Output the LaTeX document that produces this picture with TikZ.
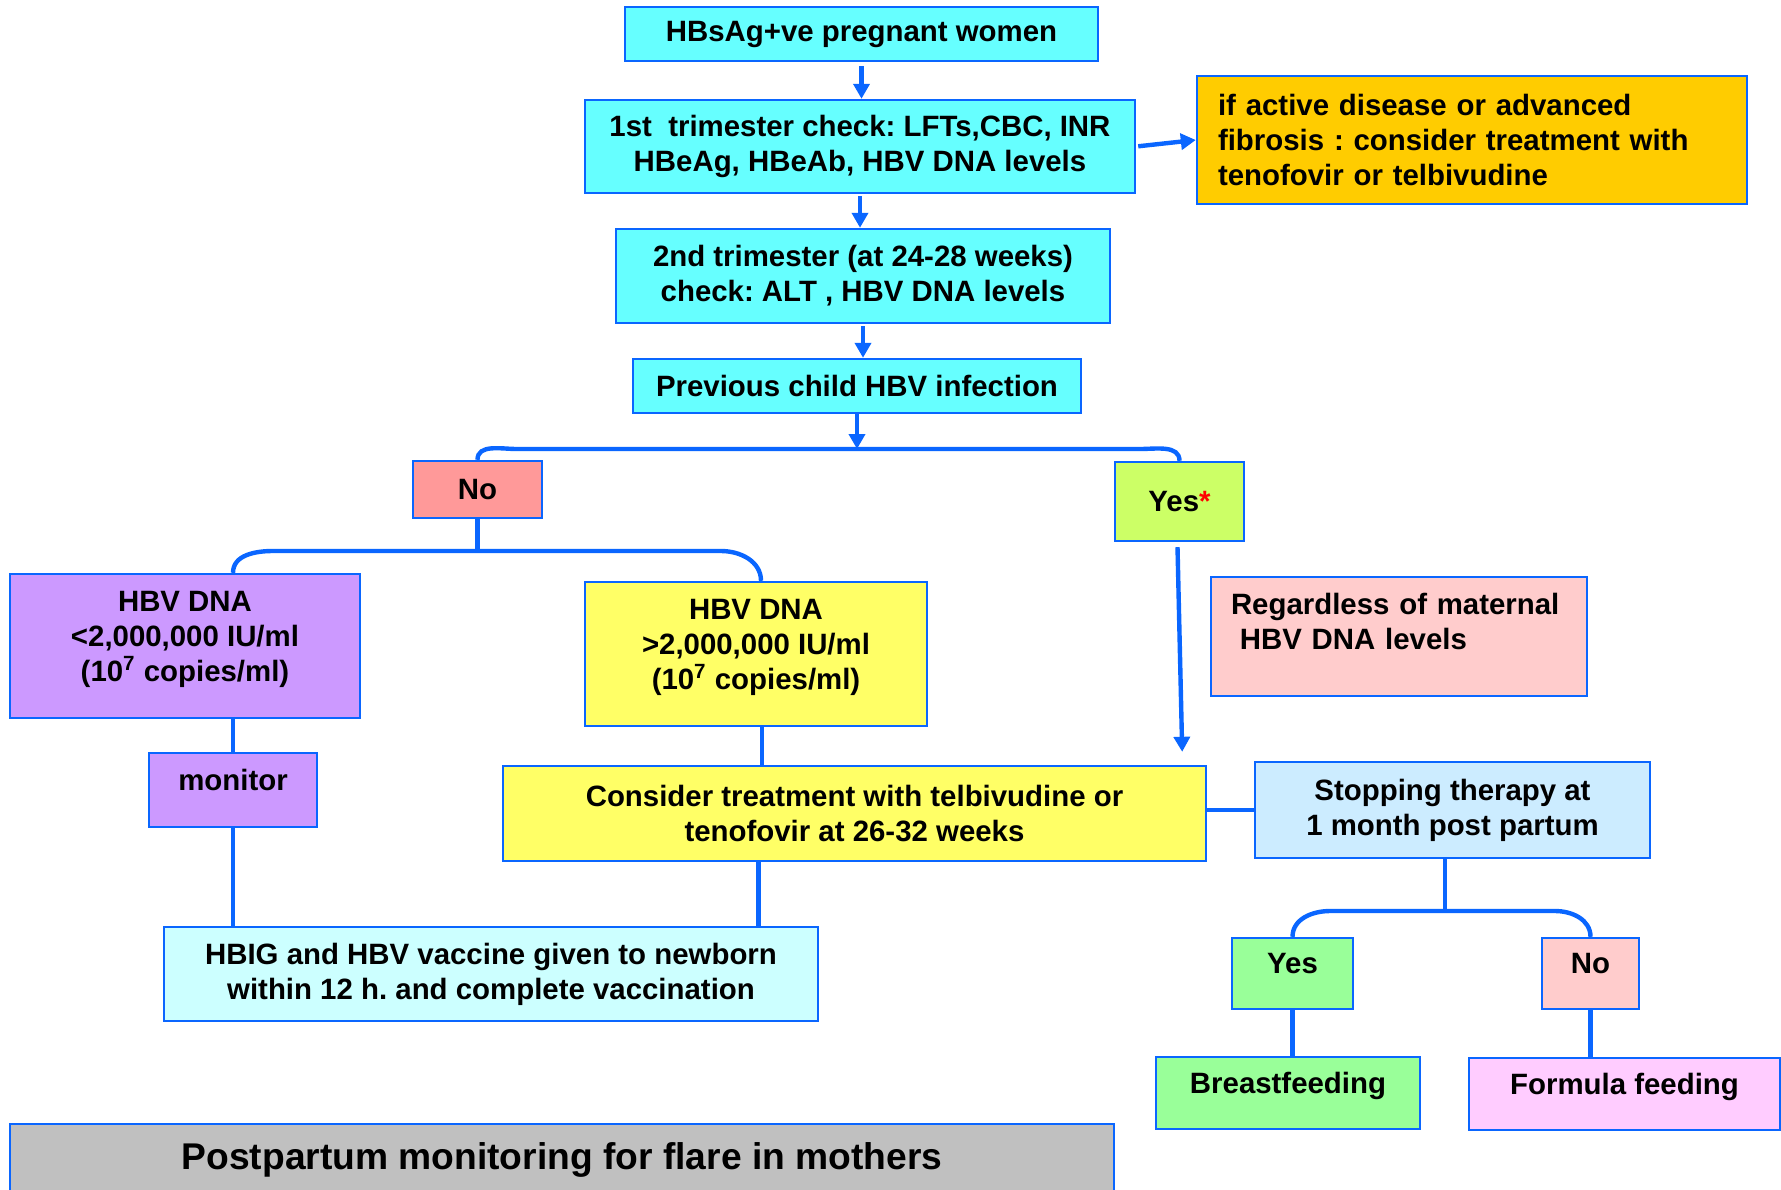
\documentclass[tikz,border=0pt]{standalone}
\usepackage{fontspec}
\setmainfont{Liberation Sans}
\frenchspacing
\usetikzlibrary{arrows.meta,calc}
\definecolor{hbvblue}{HTML}{0A66FF}
\definecolor{cyanbox}{HTML}{66FFFF}
\definecolor{orangebox}{HTML}{FFCC00}
\definecolor{nobox}{HTML}{FF9999}
\definecolor{yesbox}{HTML}{CCFF66}
\definecolor{purplebox}{HTML}{CC99FF}
\definecolor{yellowbox}{HTML}{FFFF66}
\definecolor{pinkbox}{HTML}{FFCCCC}
\definecolor{stopbox}{HTML}{CCECFF}
\definecolor{newbornbox}{HTML}{CCFFFF}
\definecolor{greenbox}{HTML}{99FF99}
\definecolor{formulabox}{HTML}{FFCCFF}
\definecolor{greybox}{HTML}{C0C0C0}
\begin{document}
\begin{tikzpicture}[
   x=0.5pt, y=-0.5pt,
   font=\bfseries\fontsize{14.7}{17.5}\selectfont,
   box/.style={draw=hbvblue, line width=1.2pt, align=center, inner sep=0pt},
   arrow/.style={-{Triangle[length=7.5pt, width=8pt]}, hbvblue, line width=2.2pt},
   link/.style={hbvblue, line width=2.2pt}
]
\useasboundingbox (0,0) rectangle (1781,1189);

% Screening during pregnancy
\node[box, fill=cyanbox, minimum width=236.5pt, minimum height=27pt] (hbsag) at (861.5,34) {HBsAg+ve pregnant women};
\node[box, fill=cyanbox, minimum width=275pt, minimum height=46.5pt] (first) at (860,146.5) {1st\ \ trimester check: LFTs,CBC, INR\\HBeAg, HBeAb, HBV DNA levels};
\node[box, fill=cyanbox, minimum width=247pt, minimum height=47pt] (second) at (863,276) {2nd trimester (at 24-28 weeks)\\check: ALT , HBV DNA levels};
\node[box, fill=cyanbox, minimum width=224pt, minimum height=27pt] (prev) at (857,386) {Previous child HBV infection};
\node[box, fill=orangebox, minimum width=275pt, minimum height=64pt, text width=254pt, align=left] (active) at (1472,140) {if active disease or advanced\\fibrosis : consider treatment with\\tenofovir or telbivudine};
\draw[arrow, shorten <=2pt] (hbsag.south) -- (hbsag.south |- first.north);
\draw[arrow, shorten <=1pt] (first.south) -- (first.south |- second.north);
\draw[arrow, shorten <=1pt] (second.south) -- (second.south |- prev.north);
\draw[arrow, shorten <=1pt] (first.east) -- (active.west);

% Previous child infected?
\node[box, fill=nobox, minimum width=64.5pt, minimum height=28.5pt] (no1) at (477.5,489.5) {No};
\node[box, fill=yesbox, minimum width=64.5pt, minimum height=39.5pt] (yes1) at (1179.5,501.5) {Yes\textcolor{red}{*}};
\draw[arrow] (prev.south) -- (prev.south |- 0,449);
\draw[link] (no1.north) to[out=90, in=180] (517,449) -- (1140,449) to[out=0, in=90] (yes1.north);

% Maternal viral load
\node[box, fill=purplebox, minimum width=175pt, minimum height=72pt] (low) at (185,646) {HBV DNA\\<2,000,000 IU/ml\\(10\textsuperscript{7} copies/ml)\\[-7.5pt]};
\node[box, fill=yellowbox, minimum width=171pt, minimum height=72pt] (high) at (756,654) {HBV DNA\\>2,000,000 IU/ml\\(10\textsuperscript{7} copies/ml)\\[-7.5pt]};
\node[box, fill=pinkbox, minimum width=188pt, minimum height=59.5pt, text width=168pt, align=left] (regard) at (1399,636.5) {Regardless of maternal\\\hspace*{0.3em}HBV DNA levels\\[-2pt]\mbox{}};
\draw[link] (no1.south) -- (no1.south |- 0,551);
\draw[link] ([xshift=24pt]low.north) to[out=90, in=180] (273,551) -- (721,551) to[out=0, in=90] ([xshift=2.5pt]high.north);

% Management
\node[box, fill=purplebox, minimum width=84pt, minimum height=37pt] (monitor) at (233,790) {monitor\\[-7.5pt]};
\node[box, fill=yellowbox, minimum width=351.5pt, minimum height=47.5pt] (treat) at (854.5,813.5) {Consider treatment with telbivudine or\\tenofovir at 26-32 weeks};
\node[box, fill=stopbox, minimum width=197.5pt, minimum height=48pt] (stop) at (1452.5,810) {Stopping therapy at\\1 month post partum};
\node[box, fill=newbornbox, minimum width=327pt, minimum height=47pt] (hbig) at (491,974) {HBIG and HBV vaccine given to newborn\\within 12 h. and complete vaccination};
\coordinate (yesend) at ($(treat.north east)+(-25,-13)$);
\draw[link] (monitor.north) -- (monitor.north |- low.south);
\draw[link] (monitor.south) -- (monitor.south |- hbig.north);
\draw[link] ([xshift=3pt]high.south) -- ([xshift=3pt]high.south |- treat.north);
\draw[link] ([xshift=-48pt]treat.south) -- ([xshift=-48pt]treat.south |- hbig.north);
\draw[arrow] ([xshift=-1pt, yshift=-2.5pt]yes1.south) -- (yesend);
\draw[link] (stop.west -| treat.east) -- (stop.west);

% Breastfeeding
\node[box, fill=greenbox, minimum width=60.5pt, minimum height=35.5pt] (yes2) at (1292.5,973.5) {Yes\\[-7.5pt]};
\node[box, fill=pinkbox, minimum width=48.5pt, minimum height=35.5pt] (no2) at (1590.5,973.5) {No\\[-7.5pt]};
\node[box, fill=greenbox, minimum width=132pt, minimum height=36pt] (breast) at (1288,1093) {Breastfeeding\\[-7.5pt]};
\node[box, fill=formulabox, minimum width=155.5pt, minimum height=36pt] (formula) at (1624.5,1094) {Formula feeding\\[-7.5pt]};
\draw[link] ([xshift=-3.75pt]stop.south) -- ([xshift=-3.75pt]stop.south |- 0,911);
\draw[link] (yes2.north) to[out=90, in=180] (1330,911) -- (1555,911) to[out=0, in=90] (no2.north);
\draw[link] (yes2.south) -- (yes2.south |- breast.north);
\draw[link] (no2.south) -- (no2.south |- formula.north);

% Mothers
\node[box, fill=greybox, minimum width=552pt, minimum height=36pt, font=\bfseries\fontsize{18.6}{22}\selectfont] (post) at (562,1160) {Postpartum monitoring for flare in mothers};

\end{tikzpicture}
\end{document}
